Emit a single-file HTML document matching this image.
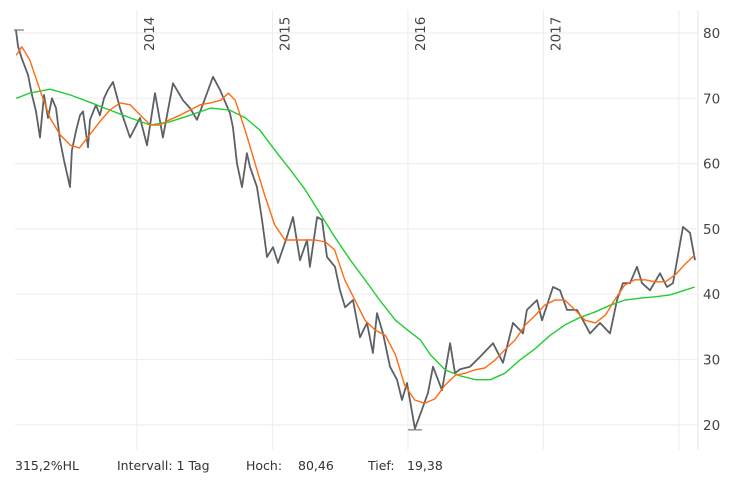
<!DOCTYPE html>
<html><head><meta charset="utf-8"><style>
body{margin:0;background:#fff;width:749px;height:480px;overflow:hidden;font-family:"DejaVu Sans","Liberation Sans",sans-serif}
svg{display:block}
</style></head><body>
<svg id="chart" width="749" height="480" xmlns="http://www.w3.org/2000/svg">
<g id="grid"></g>
<g id="series"></g>
<g id="labels"></g>
<g font-size="12.5" fill="#333">
<text x="15" y="470">315,2%HL</text>
<text x="117" y="470">Intervall: 1 Tag</text>
<text x="246" y="470">Hoch:</text>
<text x="298" y="470">80,46</text>
<text x="368" y="470">Tief:</text>
<text x="407" y="470">19,38</text>
</g>
</svg>
<script>
// months since Jan 2013
const priceT=[1.28,1.46,1.82,2.35,2.70,3.06,3.41,3.76,4.12,4.47,4.83,5.18,5.54,6.07,6.24,6.60,6.95,7.22,7.66,7.84,8.37,8.72,9.08,9.43,9.88,10.50,11.38,12.27,12.89,13.60,14.30,15.19,16.08,16.70,17.32,18.03,18.73,19.35,20.24,20.50,20.86,21.30,21.74,22.01,22.63,23.07,23.52,24.05,24.49,25.29,25.82,26.44,27.06,27.32,27.95,28.39,28.83,29.54,29.98,30.43,31.13,31.75,32.37,32.90,33.26,33.79,34.41,35.03,35.47,35.92,36.62,37.24,37.78,38.22,39.02,39.73,40.17,40.61,41.50,42.38,43.53,44.42,45.31,46.19,46.54,47.43,47.87,48.85,49.47,50.09,50.97,51.51,52.13,53.01,53.90,54.52,55.05,55.67,56.29,56.73,57.44,58.33,58.95,59.48,60.36,60.98,61.43];
const priceV=[80.4,78,76,73.6,70.5,68,64,70.5,67,70,68.5,63.6,60.5,56.4,62,65,67.4,68,62.5,66.7,69,67.4,70,71.3,72.5,68.5,64,67,62.8,70.8,64,72.3,69.7,68.5,66.7,70,73.3,71.3,67.7,65.6,60,56.4,61.6,59.5,56.4,51.4,45.7,47.2,44.8,48.8,51.8,45.2,48.3,44.2,51.8,51.4,45.7,44.2,40.6,38,39.1,33.4,35.6,31,37.1,34,28.9,26.9,23.8,26.4,19.4,22.3,24.9,28.9,25.3,32.5,27.9,28.5,28.9,30.4,32.5,29.5,35.6,34,37.6,39.1,36,41.1,40.6,37.6,37.6,36,34,35.6,34,39.1,41.7,41.7,44.2,41.7,40.6,43.2,41.1,41.7,50.3,49.4,45.2];
const ma50T=[1.3,1.8,2.5,3.4,4.3,5.2,6.1,6.9,7.8,8.7,9.6,10.5,11.4,12.3,13.2,14.0,14.9,15.8,16.7,17.6,18.5,19.4,20.1,20.7,21.6,22.5,23.3,24.2,25.1,26.4,27.8,28.7,29.5,30.4,31.3,32.2,33.1,34.0,34.9,35.7,36.6,37.5,38.4,39.3,40.2,41.1,41.9,42.8,43.7,44.6,45.5,46.4,47.3,48.1,49.0,49.9,50.8,51.7,52.6,53.5,54.3,55.2,56.1,57.0,57.9,58.8,59.7,60.5,61.4];
const ma50V=[76.6,77.9,75.9,71.3,67,64.4,62.8,62.4,64.4,66.4,68.2,69.3,69,67.4,65.9,65.9,66.7,67.4,68.2,69,69.3,69.7,70.8,69.7,65,59.8,55.2,50.6,48.3,48.3,48.3,48,46.8,42.2,39.1,36,34.5,33.7,30.7,26.1,23.8,23.3,24,26.1,27.6,27.9,28.4,28.7,29.9,31.5,33,35.3,36.8,38.3,39.1,39.1,37.6,36,35.6,36.8,39.1,41.4,42.2,42.2,41.9,41.9,43,44.5,46];
const ma200T=[1.3,2.5,4.3,6.1,7.8,9.6,11.4,13.2,14.9,16.7,18.5,20.2,21.6,22.9,24.2,25.6,26.9,28.2,29.5,30.9,32.2,33.5,34.9,36.2,37.1,38.0,39.3,40.6,42.0,43.3,44.6,45.9,47.3,48.6,49.9,51.2,52.6,53.9,55.2,56.6,57.9,59.2,60.5,61.4];
const ma200V=[70,70.8,71.4,70.5,69.4,68.2,67,65.9,66.4,67.4,68.5,68.2,67,65.1,62.1,59,56,52.4,48.8,45.2,42.2,39.1,36,34.2,33,30.7,28.4,27.5,26.9,26.9,27.9,29.9,31.7,33.7,35.3,36.4,37.3,38.3,39.1,39.4,39.6,39.9,40.6,41.1];
const yTicks=[20,30,40,50,60,70,80];
const yearTicks=[12,24,36,48];
const yearLabels=["2014","2015","2016","2017"];
const extraGrid=[60];
const NS="http://www.w3.org/2000/svg";
const X=m=>1.5+m*11.29, Y=v=>33+(80-v)*6.53;
function mk(tag,attrs,parent){const e=document.createElementNS(NS,tag);for(const k in attrs)e.setAttribute(k,attrs[k]);parent.appendChild(e);return e;}
const grid=document.getElementById('grid'),ser=document.getElementById('series'),lab=document.getElementById('labels');
yTicks.forEach(v=>{
 const l=mk('line',{x1:15,x2:698,y1:Y(v),y2:Y(v),stroke:'#efefef','stroke-width':1.2},grid);
 
 
 const t=mk('text',{x:703,y:Y(v)+5,'font-size':13.5,fill:'#444'},lab);t.textContent=v;
 
 
});
yearTicks.concat(extraGrid).forEach(m=>{
 const l=mk('line',{x1:X(m),x2:X(m),y1:10,y2:450,stroke:'#efefef','stroke-width':1.2},grid);
 
 
});
const ax=mk('line',{x1:698,x2:698,y1:10,y2:450,stroke:'#e8e8e8','stroke-width':1.2},grid);


yearTicks.forEach((m,i)=>{
 const x=X(m)+17,y=51;
 const t=mk('text',{x:x,y:y,'font-size':13.5,fill:'#444',transform:`rotate(-90 ${x} ${y})`},lab);t.textContent=yearLabels[i];
 
 
});
function line(T,V,color,w,name){
 const p=mk('polyline',{points:T.map((t,i)=>X(t).toFixed(1)+','+Y(V[i]).toFixed(1)).join(' '),fill:'none',stroke:color,'stroke-width':w,'stroke-linejoin':'round'},ser);
 
 
}
line(priceT,priceV,'#5b6166',1.8,'price-line');
line(ma200T,ma200V,'#22cc33',1.4,'ma200-line');
line(ma50T,ma50V,'#ff6a10',1.4,'ma50-line');
const hi=priceV.indexOf(Math.max(...priceV)),lo=priceV.indexOf(Math.min(...priceV));
const hm=mk('line',{x1:X(priceT[hi])-2,x2:X(priceT[hi])+8,y1:Y(80.46),y2:Y(80.46),stroke:'#777','stroke-width':1.2},ser);


const lm=mk('line',{x1:X(priceT[lo])-7,x2:X(priceT[lo])+7,y1:Y(19.38)+1,y2:Y(19.38)+1,stroke:'#777','stroke-width':1.2},ser);


</script>
</body></html>
